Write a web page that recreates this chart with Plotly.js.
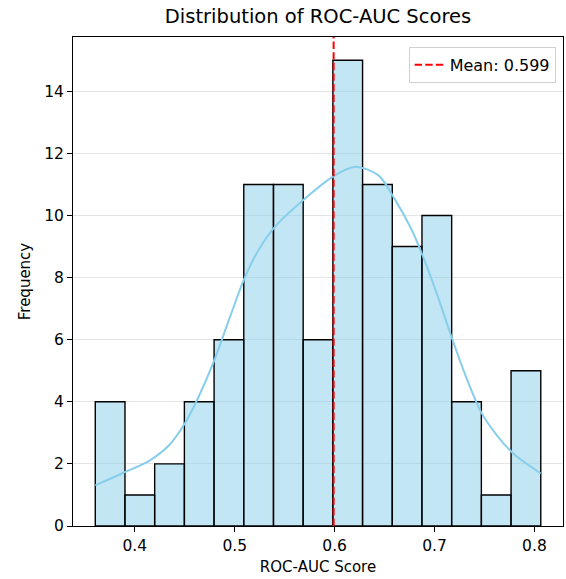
<!DOCTYPE html>
<html><head><meta charset="utf-8">
<script src="https://cdn.plot.ly/plotly-3.0.1.min.js"></script>
<style>html,body{margin:0;padding:0;background:#fff}#chart{width:566px;height:579px}</style>
</head><body><div id="chart"></div>
<script>
// Histogram data
const binStart = 0.3604;
const binWidth = 0.02973;
const counts = [4, 1, 2, 4, 6, 11, 11, 6, 15, 11, 9, 10, 4, 1, 5];
// KDE curve
const kdeX = [0.3604, 0.3876, 0.4143, 0.4342, 0.4509, 0.4641, 0.4791, 0.4940, 0.5090, 0.5240, 0.5406, 0.5672, 0.5990, 0.6204, 0.6437, 0.6603, 0.6770, 0.6870, 0.7020, 0.7168, 0.7300, 0.7467, 0.7634, 0.7800, 0.8063];
const kdeY = [1.31, 1.70, 2.10, 2.60, 3.35, 4.18, 5.30, 6.62, 7.92, 8.90, 9.65, 10.46, 11.27, 11.57, 11.30, 10.52, 9.55, 8.80, 7.51, 6.11, 4.93, 3.66, 2.88, 2.30, 1.69];
const meanValue = 0.599;
const xTicks = [0.4, 0.5, 0.6, 0.7, 0.8];
const yTicks = [0, 2, 4, 6, 8, 10, 12, 14];

const centers = counts.map((c, i) => binStart + binWidth * (i + 0.5));
const yTop = 15.75;
const FONT = '"DejaVu Sans", "Noto Sans", sans-serif';

const traces = [
  {type: 'bar', x: centers, y: counts, width: binWidth,
   marker: {color: 'rgba(135,206,235,0.5)', line: {color: '#000', width: 1.4}},
   showlegend: false, hoverinfo: 'skip'},
  {type: 'scatter', mode: 'lines', x: kdeX, y: kdeY,
   line: {color: '#87ceeb', width: 2, shape: 'spline', smoothing: 0.8},
   showlegend: false, hoverinfo: 'skip'},
  {type: 'scatter', mode: 'lines', x: [meanValue, meanValue], y: [0, yTop],
   line: {color: 'red', width: 2, dash: '7.4px,3.2px'},
   name: 'Mean: ' + meanValue.toFixed(3)}
];

const layout = {
  width: 566, height: 579,
  margin: {l: 73, r: 3, t: 37, b: 53},
  paper_bgcolor: '#fff', plot_bgcolor: '#fff',
  font: {family: FONT, color: '#000', size: 15},
  title: {text: 'Distribution of ROC-AUC Scores', font: {size: 19.5, family: FONT},
    xref: 'paper', x: 0.5, xanchor: 'center', yref: 'container', y: 0.984, yanchor: 'top'},
  bargap: 0,
  xaxis: {range: [0.3381, 0.8286], tickvals: xTicks, ticktext: xTicks.map(v => v.toFixed(1)),
    showgrid: false, zeroline: false, showline: true, linecolor: '#000', linewidth: 1, mirror: true,
    ticks: 'outside', ticklen: 5, tickcolor: '#000', tickfont: {size: 15.5},
    title: {text: 'ROC-AUC Score', font: {size: 15}, standoff: 7}},
  yaxis: {range: [0, yTop], tickvals: yTicks, showgrid: true, gridcolor: 'rgba(0,0,0,0.1)', gridwidth: 1,
    zeroline: false, showline: true, linecolor: '#000', linewidth: 1, mirror: true, layer: 'above traces',
    ticks: 'outside', ticklen: 5, tickcolor: '#000', tickfont: {size: 15.5},
    title: {text: 'Frequency', font: {size: 15}, standoff: 9}},
  legend: {x: 0.985, y: 0.98, xanchor: 'right', yanchor: 'top', bgcolor: 'rgba(255,255,255,0.8)',
    bordercolor: '#d0d0d0', borderwidth: 1, font: {size: 16}}
};
Plotly.newPlot('chart', traces, layout, {displayModeBar: false, staticPlot: true});
</script></body></html>
